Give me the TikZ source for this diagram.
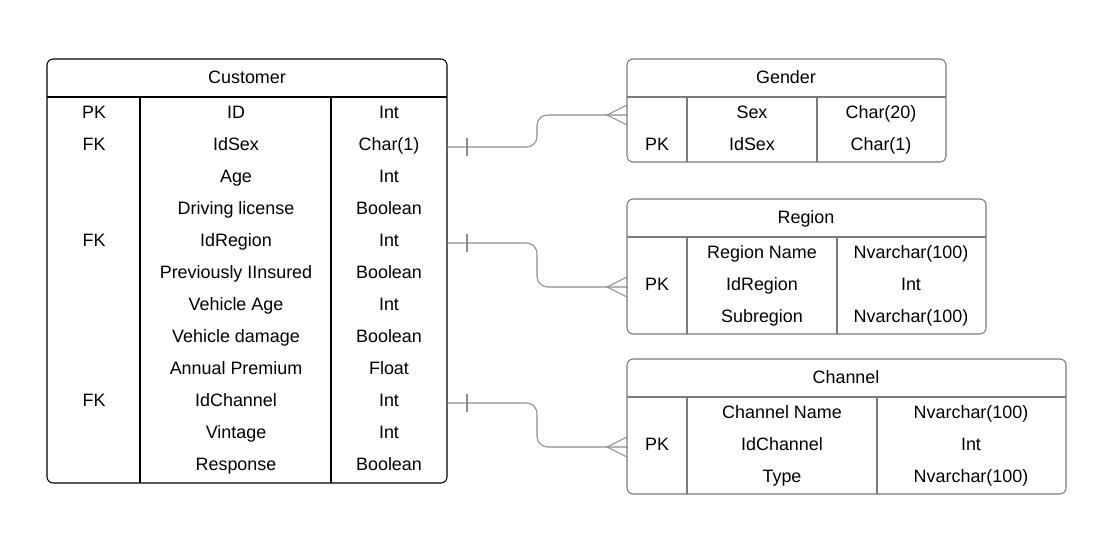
\documentclass[tikz,border=0pt]{standalone}
\usepackage{fontspec}
\setmainfont{Liberation Sans}
\usepackage{xcolor}
\usepackage{tikz}

\definecolor{edgegray}{HTML}{7A7A7A}
\definecolor{linkgray}{HTML}{8C8C8C}

\tikzset{
	cell/.style={inner sep=0pt, text height=7.3pt, text depth=0pt, font=\fontsize{10.2}{12}\selectfont},
	box/.style={rounded corners=3.5pt},
	link/.style={linkgray, rounded corners=6pt},
}

\begin{document}
\begin{tikzpicture}[x=0.02cm, y=-0.02cm, line width=0.6pt]

	\useasboundingbox (0,0) rectangle (1118,547);

	% Customer
	\draw [box, black] (47,59) rectangle (447,483);
	\draw [black] (47,97) -- (447,97);
	\draw [black] (140,97) -- (140,483);
	\draw [black] (331,97) -- (331,483);
	\node [cell] (cus) at (247,77) {Customer};

	\foreach \k/\n/\t [count=\i] in {PK/ID/Int, FK/IdSex/Char(1), {}/Age/Int,
		{}/Driving license/Boolean, FK/IdRegion/Int, {}/Previously IInsured/Boolean,
		{}/Vehicle Age/Int, {}/Vehicle damage/Boolean, {}/Annual Premium/Float,
		FK/IdChannel/Int, {}/Vintage/Int, {}/Response/Boolean} {
		\node [cell] (cus-k\i) at (94,80+32*\i) {\k};
		\node [cell] (cus-n\i) at (236,80+32*\i) {\n};
		\node [cell] (cus-t\i) at (389,80+32*\i) {\t};
	}

	% Gender
	\draw [box, edgegray] (627,59) rectangle (946,162);
	\draw [edgegray] (627,97) -- (946,97);
	\draw [edgegray] (687,97) -- (687,162);
	\draw [edgegray] (817,97) -- (817,162);
	\node [cell] (gen) at (786,77) {Gender};

	\foreach \k/\n/\t [count=\i] in {{}/Sex/Char(20), PK/IdSex/Char(1)} {
		\node [cell] (gen-k\i) at (657,80+32*\i) {\k};
		\node [cell] (gen-n\i) at (752,80+32*\i) {\n};
		\node [cell] (gen-t\i) at (881,80+32*\i) {\t};
	}

	% Region
	\draw [box, edgegray] (627,199) rectangle (986,334);
	\draw [edgegray] (627,237) -- (986,237);
	\draw [edgegray] (687,237) -- (687,334);
	\draw [edgegray] (837,237) -- (837,334);
	\node [cell] (reg) at (806,217) {Region};

	\foreach \n/\t [count=\i] in {Region Name/Nvarchar(100), IdRegion/Int, Subregion/Nvarchar(100)} {
		\node [cell] (reg-n\i) at (762,220+32*\i) {\n};
		\node [cell] (reg-t\i) at (911,220+32*\i) {\t};
	}
	\node [cell] (reg-pk) at (657,284) {PK};

	% Channel
	\draw [box, edgegray] (627,359) rectangle (1066,494);
	\draw [edgegray] (627,397) -- (1066,397);
	\draw [edgegray] (687,397) -- (687,494);
	\draw [edgegray] (877,397) -- (877,494);
	\node [cell] (cha) at (846,377) {Channel};

	\foreach \n/\t [count=\i] in {Channel Name/Nvarchar(100), IdChannel/Int, Type/Nvarchar(100)} {
		\node [cell] (cha-n\i) at (782,380+32*\i) {\n};
		\node [cell] (cha-t\i) at (971,380+32*\i) {\t};
	}
	\node [cell] (cha-pk) at (657,444) {PK};

	% connector ends
	\coordinate (cus-sex) at (447,147);
	\coordinate (cus-reg) at (447,243);
	\coordinate (cus-cha) at (447,403);
	\coordinate (gen-in) at (627,115);
	\coordinate (reg-in) at (627,287);
	\coordinate (cha-in) at (627,447);

	\foreach \a/\b in {cus-sex/gen-in, cus-reg/reg-in, cus-cha/cha-in} {
		\draw [link] (\a) -- ++(90,0) |- (\b);
		\draw [linkgray] (\a) ++(20,-9) -- ++(0,18);
		\draw [linkgray] (\b) ++(0,-10) -- ++(-20,10) -- ++(20,10);
	}

\end{tikzpicture}
\end{document}
